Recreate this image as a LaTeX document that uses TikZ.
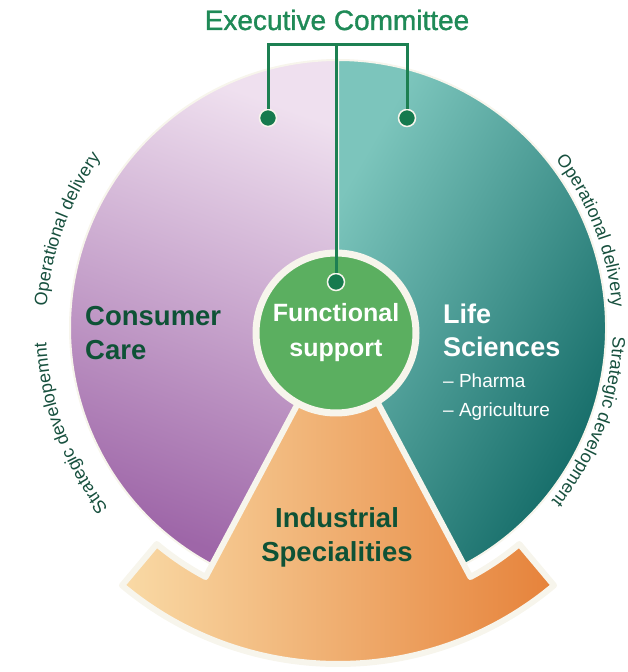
\documentclass[tikz,border=0pt]{standalone}
\usepackage{fontspec}
\setmainfont{Liberation Sans}
\usetikzlibrary{positioning,decorations.text}

\definecolor{cream}{HTML}{F7F5EC}
\definecolor{darkgreen}{HTML}{0E5236}
\definecolor{execgreen}{HTML}{1F8A57}
\definecolor{linegreen}{HTML}{1D8052}
\definecolor{dotgreen}{HTML}{167A4E}
\definecolor{funcgreen}{HTML}{5BAF60}
\definecolor{sidegreen}{HTML}{17503E}
\definecolor{pinktop}{HTML}{EFE0EF}
\definecolor{purplebot}{HTML}{9E66A8}
\definecolor{tealtop}{HTML}{7CC5BC}
\definecolor{tealmid}{HTML}{22A095}
\definecolor{tealbot}{HTML}{0A6360}
\definecolor{orangeleft}{HTML}{F9DAA6}
\definecolor{orangeright}{HTML}{E6823A}

\newcommand{\sidefont}{\fontsize{18}{18}\selectfont}

\tikzset{
  sector/.style={draw=cream, line width=2pt},
  link/.style={draw=linegreen, line width=3pt},
  dot/.style={circle, fill=dotgreen, draw=cream, line width=1.5pt, minimum size=17pt, inner sep=0pt},
  label/.style={inner sep=0pt, font=\fontsize{27.5}{34}\selectfont\bfseries},
  sidetext/.style={decorate, decoration={text along path, text align=center, text color=sidegreen, text={|\sidefont|#1}}},
}

\begin{document}
\begin{tikzpicture}[x=1pt, y=1pt]
	\useasboundingbox (0,0) rectangle (628,672);
	\coordinate (C) at (338,344);
	\begin{scope}[shift={(C)}]
		% the two halves of the disc
		\path[sector, top color=pinktop, bottom color=purplebot, shading angle=-20] (0,0) -- (90:268) arc[start angle=90, end angle=242, radius=268] -- cycle;
		\path[sector, top color=tealtop, middle color=tealmid, bottom color=tealbot, shading angle=60] (0,0) -- (-62:268) arc[start angle=-62, end angle=90, radius=268] -- cycle;
		% wedge with the outer band
		\path[draw=cream, line width=6pt, line join=round, left color=orangeleft, right color=orangeright] (0,0) -- (-118:282) arc[start angle=-118, end angle=-130, radius=282] -- (-130:336) arc[start angle=-130, end angle=-50, radius=336] -- (-50:282) arc[start angle=-50, end angle=-62, radius=282] -- cycle;
		% texts round the rim
		\path[sidetext={Operational delivery}] (178:292) arc[start angle=178, end angle=142, radius=292];
		\path[sidetext={Strategic developemnt}] (219:292) arc[start angle=219, end angle=182, radius=292];
		\path[sidetext={Operational delivery}] (39:275) arc[start angle=39, end angle=3, radius=275];
		\path[sidetext={Strategic development}] (-1:275) arc[start angle=-1, end angle=-40, radius=275];
	\end{scope}

	\node(func) at (336,339)[circle, fill=funcgreen, draw=cream, line width=7pt, minimum size=160pt, label, font=\fontsize{25}{35}\selectfont\bfseries, text=white, align=center]{Functional\\support};

	\node(consumer) at (85,366)[label, anchor=north west, align=left, text=darkgreen]{Consumer\\Care};
	\node(lifeName) at (443,368)[label, anchor=north west, align=left, text=white, font=\fontsize{27}{33}\selectfont\bfseries]{Life\\Sciences};
	\node(lifeList) at (443,298)[inner sep=0pt, anchor=north west, align=left, text=white, font=\fontsize{19}{29}\selectfont]{-- Pharma\\-- Agriculture};
	\node(industrial) at (337,165)[label, anchor=north, align=center, text=darkgreen]{Industrial\\Specialities};

	\node(exec) at (337,642)[anchor=base, inner sep=0pt, text=execgreen, font=\fontsize{28}{28}\selectfont\addfontfeatures{FakeBold=1.2}]{Executive Committee};

	% reporting lines
	\coordinate (bar) at (336,627);
	\node[dot] (dotL) at (268,554) {};
	\node[dot] (dotR) at (407,554) {};
	\node[dot] (dotC) at (336,390) {};
	\draw[link] (dotL) |- (bar) -| (dotR);
	\draw[link] (bar) -- (dotC);
\end{tikzpicture}
\end{document}
